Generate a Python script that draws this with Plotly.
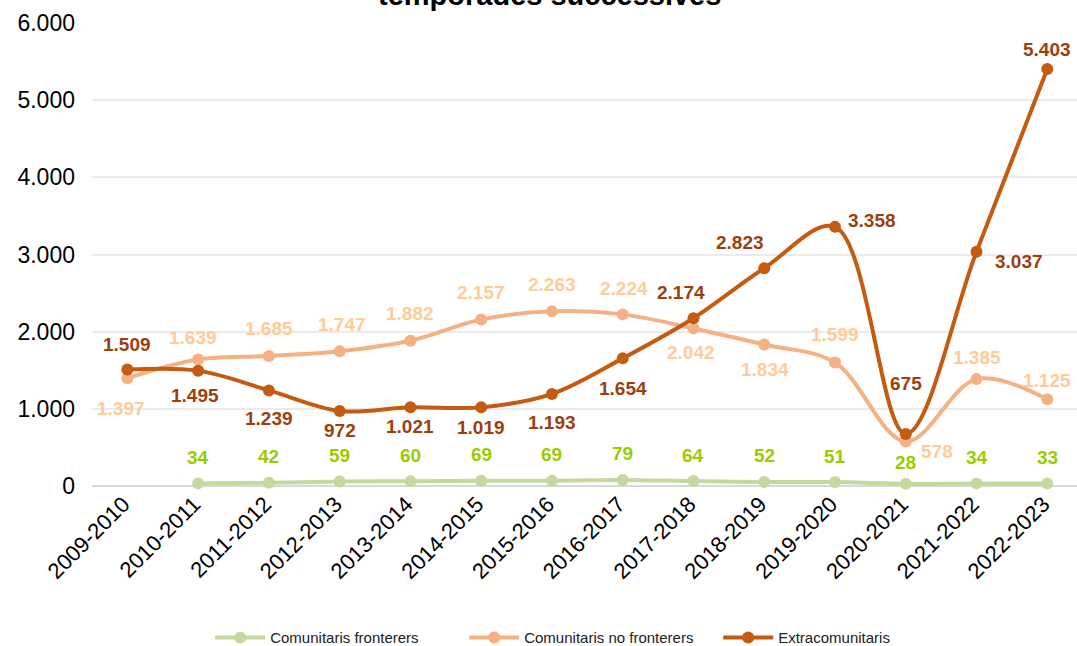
import plotly.graph_objects as go

temporades = ["2009-2010", "2010-2011", "2011-2012", "2012-2013", "2013-2014", "2014-2015",
              "2015-2016", "2016-2017", "2017-2018", "2018-2019", "2019-2020", "2020-2021",
              "2021-2022", "2022-2023"]
fronterers = [None, 34, 42, 59, 60, 69, 69, 79, 64, 52, 51, 28, 34, 33]
no_fronterers = [1397, 1639, 1685, 1747, 1882, 2157, 2263, 2224, 2042, 1834, 1599, 578, 1385, 1125]
extracomunitaris = [1509, 1495, 1239, 972, 1021, 1019, 1193, 1654, 2174, 2823, 3358, 675, 3037, 5403]

# label offsets in pixels (dx, dy) from each marker, dy positive = up
off_front = [(0, 26)] * 11 + [(0, 21), (0, 26), (0, 26)]
off_no_front = [(-6, -30), (-5, 22), (0, 27), (2, 27), (0, 27), (0, 27), (0, 27), (1, 26),
                (-2, -24), (1, -25), (0, 28), (31, -10), (0, 22), (0, 19)]
off_extra = [(0, 25), (-3, -25), (0, -28), (0, -20), (0, -19), (0, -20), (0, -29), (0, -30),
             (-12, 26), (-24, 26), (37, 6), (0, 50), (42, -10), (0, 20)]

colors = {
    "Comunitaris fronterers": ("#c5d99e", "#99cc00"),
    "Comunitaris no fronterers": ("#f4b183", "#ffcc99"),
    "Extracomunitaris": ("#c55a11", "#9c3f0e"),
}


def fmt(v):
    return f"{v:,}".replace(",", ".")


fig = go.Figure()

series = [("Comunitaris fronterers", fronterers, off_front),
          ("Comunitaris no fronterers", no_fronterers, off_no_front),
          ("Extracomunitaris", extracomunitaris, off_extra)]

for name, vals, offs in series:
    line_c, text_c = colors[name]
    fig.add_trace(go.Scatter(
        x=temporades, y=vals, name=name, mode="lines+markers",
        line=dict(color=line_c, width=4, shape="spline"),
        marker=dict(size=12, color=line_c), cliponaxis=False,
    ))
    for t, v, (dx, dy) in zip(temporades, vals, offs):
        if v is None:
            continue
        fig.add_annotation(
            x=t, y=v, text="<b>" + fmt(v) + "</b>", showarrow=False,
            xshift=dx, yshift=dy,
            font=dict(size=19, color=text_c, family="Liberation Sans"),
        )

# title is mostly cut off at the top in the original
fig.add_annotation(
    text="<b>temporades successives</b>", x=0.464, y=1.021, xref="paper", yref="paper",
    xanchor="center", yanchor="bottom", showarrow=False,
    font=dict(size=29, color="black", family="Liberation Sans"),
)

fig.update_layout(
    width=1077, height=646,
    margin=dict(l=92, r=0, t=23, b=160, autoexpand=False),
    paper_bgcolor="white", plot_bgcolor="white",
    font=dict(family="Liberation Sans", color="black"),
    separators=",.",
    showlegend=True,
    legend=dict(orientation="h", x=0.12, xanchor="left", y=-0.292, yanchor="top",
                font=dict(size=15, color="#222222"), itemwidth=50, entrywidth=189),
    xaxis=dict(range=[-0.5, 13.42], tickangle=-45, tickfont=dict(size=22),
               showgrid=False, showline=False, ticks="", ticklen=0, automargin=False,
               ticklabelshift=-4),
    yaxis=dict(range=[0, 6000], dtick=1000, tickformat=",d", tickfont=dict(size=23),
               gridcolor="#ebebeb", gridwidth=2, zeroline=True, zerolinecolor="#d9d9d9",
               zerolinewidth=2, showline=False, ticks="", ticklen=0, automargin=False,
               ticklabelstandoff=16),
)

fig.write_html("out.html", config={"displayModeBar": False},
               post_script="document.body.style.margin='0px';")
